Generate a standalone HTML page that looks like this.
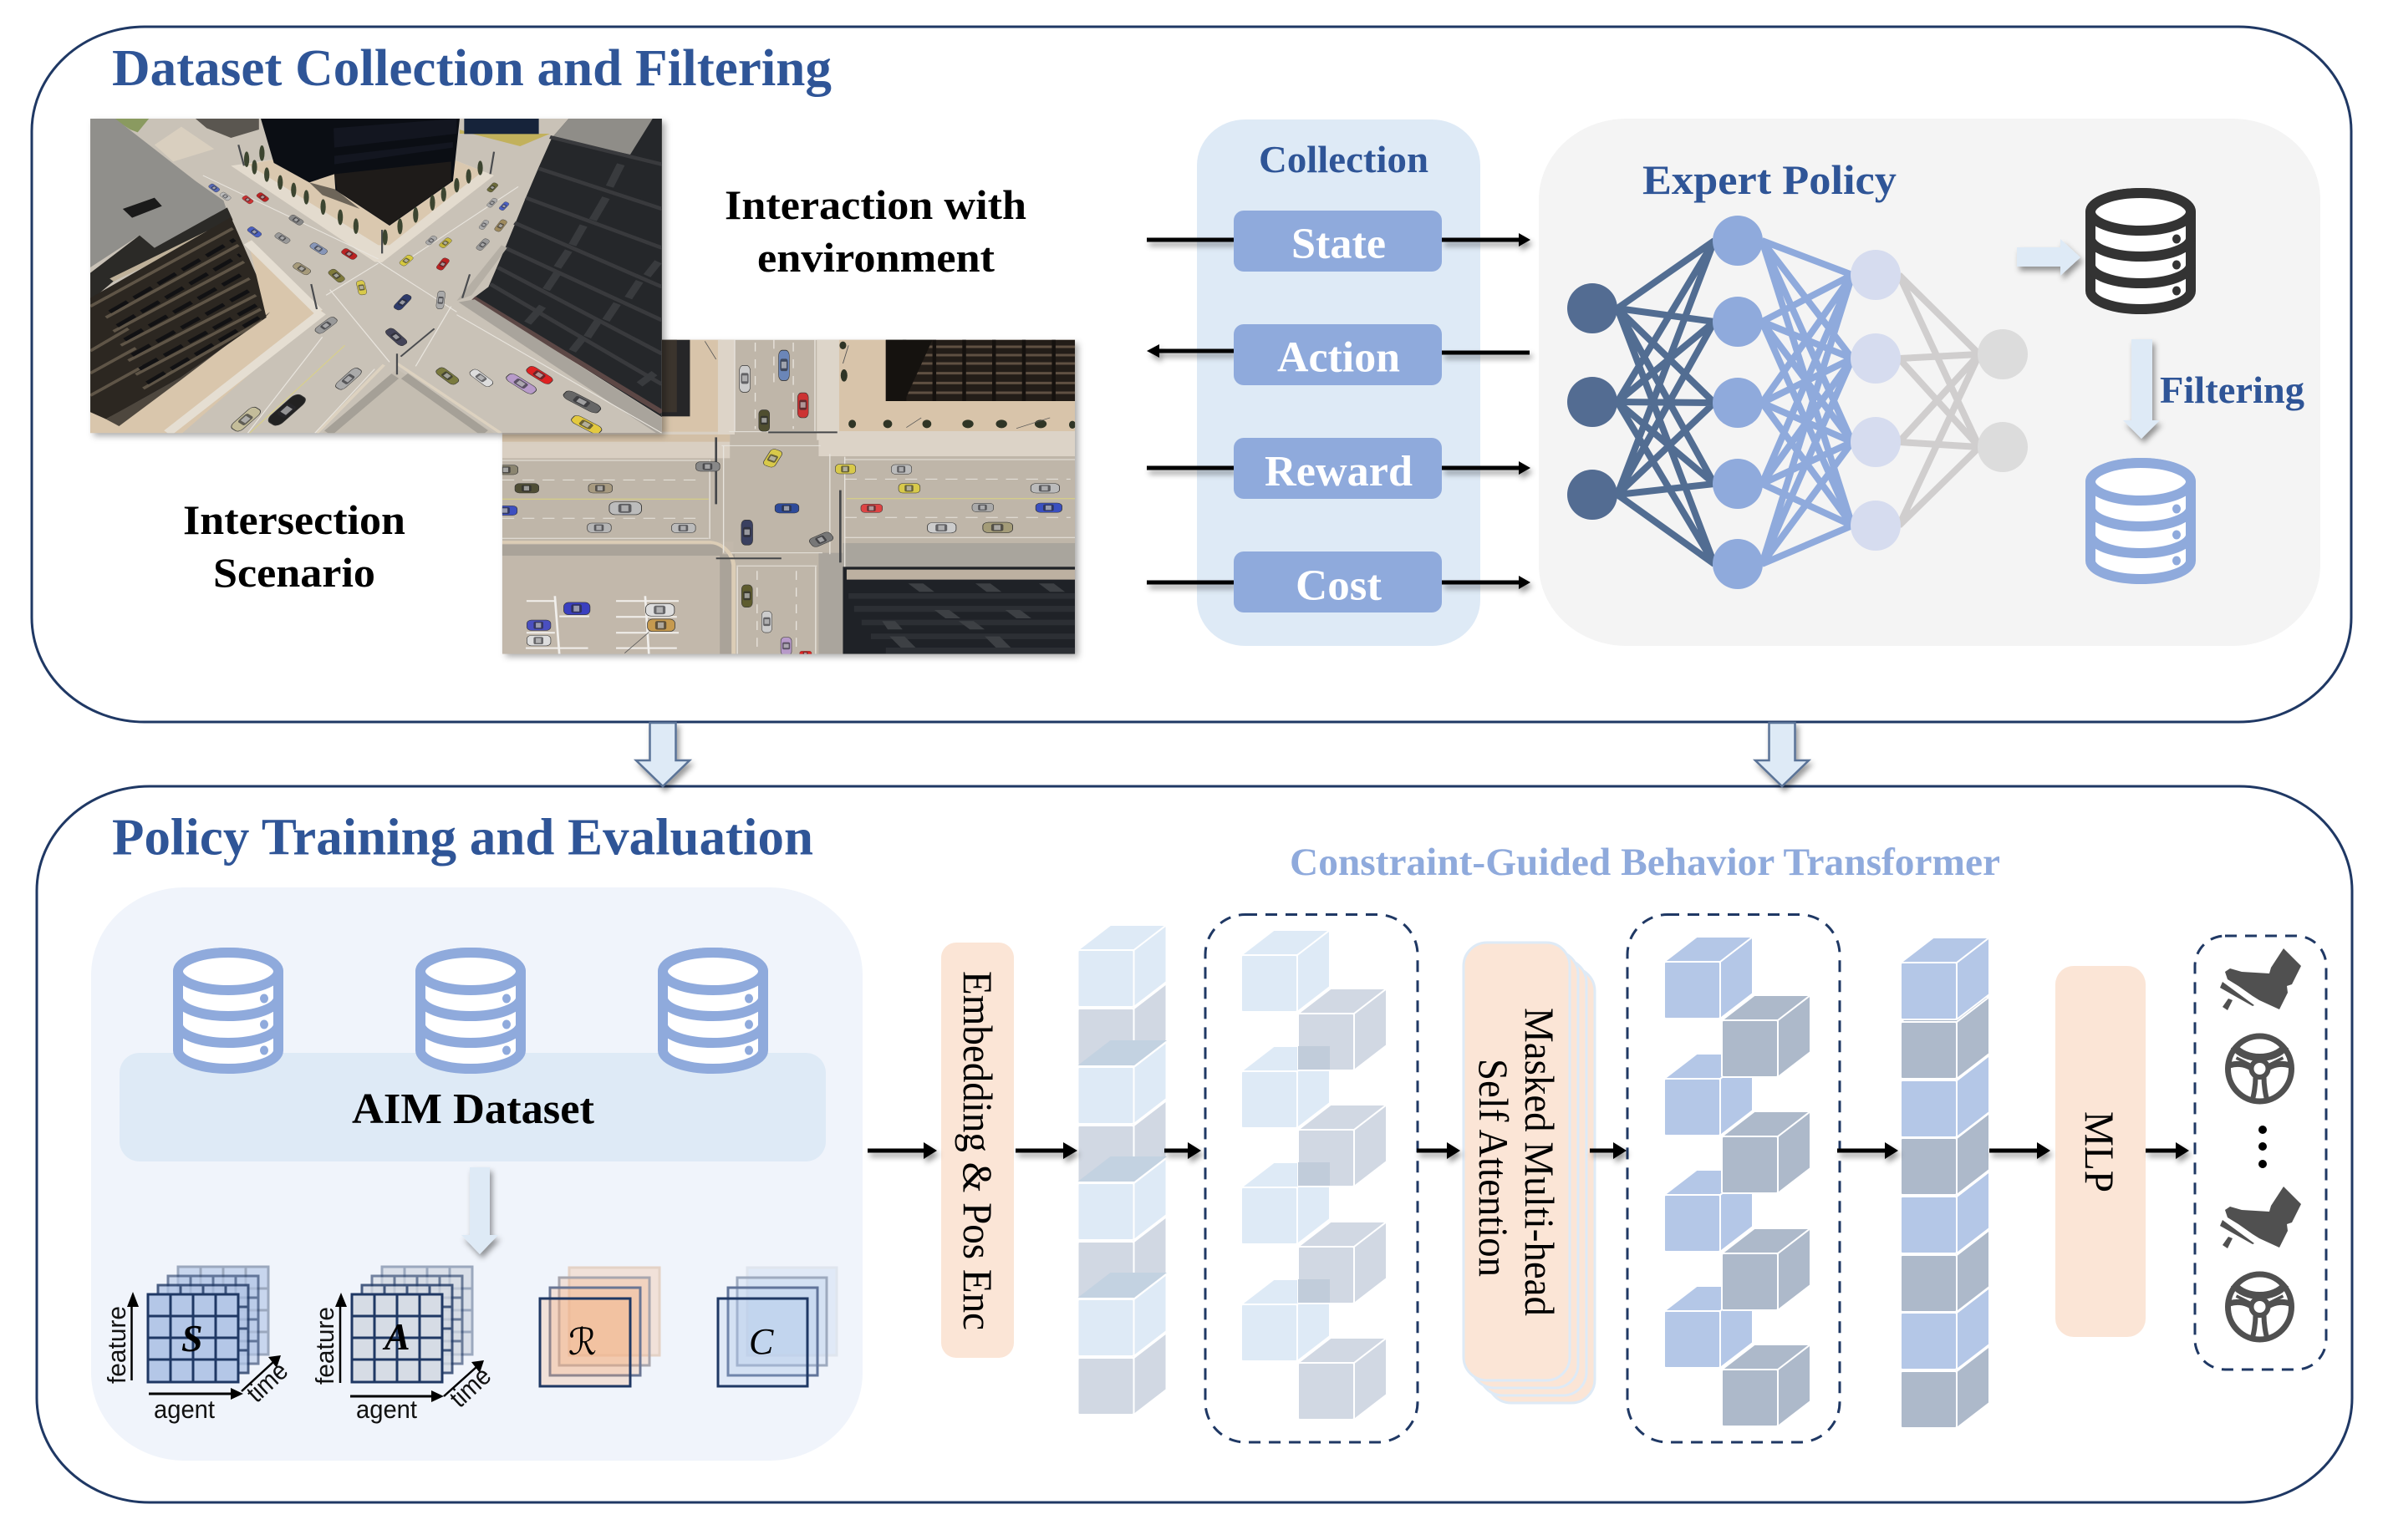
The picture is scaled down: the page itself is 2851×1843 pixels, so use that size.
<!DOCTYPE html>
<html><head><meta charset="utf-8"><title>Diagram</title>
<style>
html,body{margin:0;padding:0;background:#fff}
svg{display:block}
.s{font-family:"Liberation Serif",serif}
.b{font-family:"Liberation Serif",serif;font-weight:bold}
.t{font-family:"Liberation Sans",sans-serif}
</style></head><body>
<svg xmlns="http://www.w3.org/2000/svg" width="2851" height="1843" viewBox="0 0 2851 1843">
<defs>
<filter id="sh" x="-30%" y="-60%" width="170%" height="260%"><feDropShadow dx="3" dy="5" stdDeviation="3.5" flood-color="#000" flood-opacity=".4"/></filter>
<filter id="sh2" x="-10%" y="-10%" width="125%" height="125%"><feDropShadow dx="4" dy="4" stdDeviation="4" flood-color="#000" flood-opacity=".32"/></filter>
<clipPath id="c1"><rect x="18" y="6" width="1532" height="1129"/></clipPath>
<clipPath id="c2"><rect x="2" y="20" width="1535" height="1128"/></clipPath>
<g id="car"><rect x="-32" y="-17" width="64" height="34" rx="12" stroke="#333" stroke-width="1.5"/><rect x="-14" y="-12" width="26" height="24" rx="5" fill="#2a2a2e" opacity=".65"/><rect x="-8" y="-8" width="14" height="16" fill="#eee" opacity=".55"/></g>
<g id="db"><ellipse cx="66" cy="28.5" rx="60" ry="22.5" fill="#fff" stroke="currentColor" stroke-width="12"/>
<path d="M6 28V123A60 22 0 0 0 126 123V28Z" fill="#fff"/>
<path d="M6 28V123A60 22 0 0 0 126 123V28" fill="none" stroke="currentColor" stroke-width="12"/>
<path d="M6 60A60 22 0 0 0 126 60M6 92A60 22 0 0 0 126 92" fill="none" stroke="currentColor" stroke-width="12"/>
<ellipse cx="66" cy="28.5" rx="60" ry="22.5" fill="#fff" stroke="currentColor" stroke-width="12"/>
<ellipse cx="109" cy="61" rx="5" ry="5.5" fill="currentColor"/><ellipse cx="109" cy="92" rx="5" ry="5.5" fill="currentColor"/><ellipse cx="109" cy="123" rx="5" ry="5.5" fill="currentColor"/></g>
<g id="cube" stroke="#fff" stroke-width="2" stroke-linejoin="round"><path d="M67 0L106 -30V38L67 68Z"/><path d="M0 0L39 -30H106L67 0Z"/><rect width="67" height="68" rx="2"/></g>
<g id="grid" stroke="#1f3864" stroke-width="3" fill="none"><path d="M27 0V105M54 0V105M81 0V105M0 26H108M0 52H108M0 78H108"/><rect width="108" height="105"/></g>
<g id="foot" fill="#505050"><path d="M77 0L98 21L87 43L81 45L82 53L72 73L48 62L40 57L23 45L10 37L7 28L13 24L27 28L60 30L62 23Z"/><path d="M1 47L4 40L42 68L40 69Z"/><path d="M11 60L16 62L10 74L4 70Z"/></g>
<g id="wheel" fill="none" stroke="#505050"><ellipse cx="0" cy="0" rx="38" ry="39" stroke-width="7"/>
<path d="M-31 -27C-18 -9 18 -9 31 -27" stroke-width="9"/>
<path d="M-36 -4C-25 -8 -14 -4 -9 0M36 -4C25 -8 14 -4 9 0" stroke-width="7"/>
<path d="M-5 10C-5 20 -7 32 -9 38M5 10C5 20 7 32 9 38" stroke-width="6"/>
<path d="M-28 -13L-12 -5M28 -13L12 -5" stroke-width="3.5"/>
<circle r="10" stroke-width="6"/></g>
</defs>
<rect width="2851" height="1843" fill="#fff"/>

<!-- outer boxes -->
<rect x="38" y="32" width="2775" height="832" rx="135" ry="125" fill="#fff" stroke="#1f3864" stroke-width="3"/>
<rect x="44" y="941" width="2770" height="857" rx="135" ry="125" fill="#fff" stroke="#1f3864" stroke-width="3"/>

<text class="b" x="134" y="102" font-size="62" fill="#2f5597" textLength="861" lengthAdjust="spacingAndGlyphs">Dataset Collection and Filtering</text>
<text class="b" x="134" y="1022.5" font-size="62" fill="#2f5597" textLength="839" lengthAdjust="spacingAndGlyphs">Policy Training and Evaluation</text>

<!-- image 2 -->
<rect x="601" y="407" width="685" height="375" fill="#c2b8ab" filter="url(#sh2)"/>
<g transform="translate(600,400) scale(.4464,.3333)" clip-path="url(#c2)">
<rect x="2" y="20" width="1535" height="1128" fill="#bfb6a9"/>
<rect x="430" y="20" width="160" height="340" fill="#d8c4aa"/>
<rect x="2" y="350" width="610" height="95" fill="#d9cfc2"/>
<rect x="2" y="360" width="610" height="26" fill="#d2bfa6"/>
<rect x="580" y="20" width="45" height="340" fill="#ddd4c8"/>
<rect x="430" y="20" width="75" height="275" fill="#262628"/>
<rect x="430" y="20" width="40" height="260" fill="#3b342d"/>
<rect x="905" y="20" width="632" height="330" fill="#d8c4aa"/>
<rect x="845" y="20" width="60" height="360" fill="#ddd5c9"/>
<rect x="850" y="348" width="687" height="90" fill="#dcd3c7"/>
<rect x="1030" y="20" width="507" height="220" fill="#231d18"/>
<path d="M1080 45H1537M1065 75H1537M1050 105H1537M1040 140H1537M1035 175H1537M1035 210H1537" stroke="#5f5042" stroke-width="9" fill="none"/>
<path d="M1080 20V240M1160 20V240M1240 20V240M1320 20V240M1400 20V240M1480 20V240" stroke="#15110e" stroke-width="10" fill="none"/>
<path d="M1030 20L1155 20L1080 240H1030Z" fill="#15120f"/>
<g fill="#2f3526"><ellipse cx="940" cy="322" rx="10" ry="15"/><ellipse cx="1035" cy="322" rx="12" ry="15"/><ellipse cx="1140" cy="322" rx="12" ry="15"/><ellipse cx="1250" cy="322" rx="15" ry="15"/><ellipse cx="1340" cy="322" rx="15" ry="15"/><ellipse cx="1445" cy="322" rx="16" ry="15"/><ellipse cx="1530" cy="325" rx="9" ry="14"/><ellipse cx="918" cy="148" rx="9" ry="22"/><ellipse cx="915" cy="40" rx="9" ry="14"/></g>
<rect x="2" y="745" width="620" height="403" fill="#c2b8ab"/>
<rect x="2" y="755" width="590" height="40" fill="#aaa399"/>
<rect x="585" y="790" width="40" height="358" fill="#aaa399"/>
<path d="M2 747H560C595 752 620 790 622 830V1148" fill="none" stroke="#dccdb6" stroke-width="11"/>
<rect x="850" y="785" width="65" height="363" fill="#aaa59d"/>
<rect x="915" y="750" width="622" height="85" fill="#a9a59d"/>
<rect x="915" y="835" width="622" height="313" fill="#1f2227"/>
<rect x="925" y="845" width="612" height="36" fill="#bdb1a1"/>
<g fill="#2c2f34"><rect x="930" y="930" width="607" height="20"/><rect x="945" y="975" width="592" height="22"/><rect x="965" y="1025" width="572" height="20"/><rect x="990" y="1075" width="547" height="20"/><rect x="1030" y="1125" width="507" height="23"/></g>
<g fill="#3d4044"><path d="M1090 895h40l30 30h-40zM1270 895h40l30 30h-40zM1440 895h40l30 30h-40zM1160 990h40l30 30h-40zM1350 990h40l30 30h-40zM1020 1030h35l20 30h-40zM1225 1030h40l30 30h-40zM1040 1085h40l30 40h-40zM1295 1085h40l30 40h-40z"/></g>
<g stroke="#e8e4dd" fill="none" stroke-width="3"><path d="M2 453H555M920 450H1537M2 733H555M920 730H1537"/><path d="M590 400H855M610 350H850M615 785H860M630 832H845M595 400V785M880 430V790M558 450V735M920 440V835M625 20V348M840 20V348M632 835V1148M842 835V1148"/></g>
<path d="M2 523H540M920 520H1525M2 661H540M920 658H1525" stroke="#e8e4dd" stroke-width="3" stroke-dasharray="32 22" fill="none"/>
<path d="M2 592H555M925 590H1537" stroke="#d4cc8a" stroke-width="4" fill="none"/>
<path d="M680 30V340M782 30V340M730 20V200M685 850V1148M790 850V1148" stroke="#e8e4dd" stroke-width="3" stroke-dasharray="32 28" fill="none"/>
<g stroke="#f1efec" stroke-width="6" fill="none"><path d="M143 940L155 1148M385 940L395 1148M67 958H143M67 1072H143M65 1127H232M155 1013H235M307 958H475M307 1015H470M307 1072H475M307 1127H470"/></g>
<g stroke="#45474a" stroke-width="6" fill="none"><path d="M575 370V610M908 560V820M715 352H900M575 805H750"/></g>
<g stroke="#555" fill="none" stroke-width="2"><path d="M545 25L575 90M1085 335L1125 300M1380 338L1470 300M330 1145L395 1070M915 105L930 40"/></g>
<use href="#car" transform="translate(12,487)" fill="#8b8570"/><use href="#car" transform="translate(68,553)" fill="#4f4e35"/><use href="#car" transform="translate(265,553)" fill="#a79a80"/><use href="#car" transform="translate(10,633)" fill="#3d4fc0"/>
<use href="#car" transform="translate(332,625) scale(1.35,1.35)" fill="#bcbcbc"/><use href="#car" transform="translate(262,695)" fill="#b5b5b5"/><use href="#car" transform="translate(488,696)" fill="#bbb"/><use href="#car" transform="translate(553,475)" fill="#888"/>
<use href="#car" transform="translate(727,445) rotate(-65)" fill="#d8c94a"/><use href="#car" transform="translate(765,625)" fill="#2d4a9a"/><use href="#car" transform="translate(658,712) rotate(90) scale(1.4,.9)" fill="#3a4060"/><use href="#car" transform="translate(857,737) rotate(-30)" fill="#777"/>
<use href="#car" transform="translate(922,484) scale(.85,1)" fill="#d8c94a"/><use href="#car" transform="translate(1072,485) scale(.85,1)" fill="#bbb"/><use href="#car" transform="translate(1093,553) scale(.9,1)" fill="#d8c94a"/><use href="#car" transform="translate(1457,553) scale(1.2,1)" fill="#bbb"/>
<use href="#car" transform="translate(992,625) scale(.9,.9)" fill="#d44"/><use href="#car" transform="translate(1290,622) scale(.9,.9)" fill="#aaa"/><use href="#car" transform="translate(1467,623) scale(1.1,1)" fill="#3a4fc0"/><use href="#car" transform="translate(1180,695) scale(1.2,1.1)" fill="#ccc"/><use href="#car" transform="translate(1330,694) scale(1.25,1.1)" fill="#a49c78"/>
<use href="#car" transform="translate(652,160) rotate(90) scale(1.5,.85)" fill="#ccc"/><use href="#car" transform="translate(757,112) rotate(90) scale(1.7,.85)" fill="#6b86b8"/><use href="#car" transform="translate(808,255) rotate(90) scale(1.4,.85)" fill="#c33"/><use href="#car" transform="translate(704,310) rotate(90) scale(1.2,.85)" fill="#4f4e30"/>
<use href="#car" transform="translate(658,940) rotate(90) scale(1.25,.85)" fill="#5e5c2e"/><use href="#car" transform="translate(711,1033) rotate(90) scale(1.2,.8)" fill="#ccc"/><use href="#car" transform="translate(763,1120) rotate(90) scale(1,.85)" fill="#b79ac9"/><use href="#car" transform="translate(815,1148) scale(.5,.6)" fill="#d22"/>
<use href="#car" transform="translate(202,985) scale(1.1,1.3)" fill="#3a3fc0"/><use href="#car" transform="translate(100,1045) scale(1,1.1)" fill="#4a4fc0"/><use href="#car" transform="translate(100,1100) scale(1,1.1)" fill="#ddd"/><use href="#car" transform="translate(425,990) scale(1.2,1.3)" fill="#ddd"/><use href="#car" transform="translate(428,1045) scale(1.15,1.3)" fill="#c69a4f"/>
</g>

<!-- image 1 -->
<rect x="108" y="142" width="684" height="376" fill="#c9c2b7" filter="url(#sh2)"/>
<g transform="translate(100,140) scale(.4464,.3333)" clip-path="url(#c1)">
<rect x="18" y="6" width="1532" height="1129" fill="#c9c2b7"/>
<path d="M395 175L520 150L985 150L1100 210L800 522L780 520Z" fill="#e3dbce"/>
<path d="M440 170L520 150L985 150L1070 195L820 460L790 460Z" fill="#dac8af"/>
<path d="M475 6H1008L990 230L820 390L675 262L672 205L605 235L510 165Z" fill="#0b0e14"/>
<path d="M672 205L985 160V232L820 388L680 265Z" fill="#1e1b19"/>
<path d="M670 40L1000 6V60L672 110ZM672 140L990 90V110L672 170Z" fill="#131620"/>
<path d="M675 260L605 235L640 280L740 330Z" fill="#3e3a35" opacity=".7"/>
<path d="M1008 60H1250L1170 105L1040 60L1008 45Z" fill="#c1ad45" opacity=".8"/>
<rect x="1020" y="6" width="200" height="55" fill="#16233a"/>
<path d="M80 6H175L145 55L125 45Z" fill="#8a9a60"/>
<path d="M300 6H470L470 45L395 75L330 40Z" fill="#5a5650"/>
<path d="M262 35L350 115L240 160L190 100Z" fill="#d9cfbf"/>
<path d="M18 6H85L300 230L375 300L385 340L190 470L150 425L18 540Z" fill="#908f8b"/>
<path d="M105 330L190 290L210 320L130 362Z" fill="#1a1a1a"/>
<path d="M18 560L150 425L190 470L385 325L400 370L80 590L18 660Z" fill="#2b2a27"/>
<path d="M70 580L330 410L335 430L80 590Z" fill="#bfb199"/>
<path d="M18 650L395 360L500 680L490 720L260 935L60 1085L18 1060Z" fill="#2c2721"/>
<g stroke="#5f5547" stroke-width="10" fill="none"><path d="M18 680L400 400M60 720L415 460M80 770L430 520M100 820L445 580M120 875L462 640M140 925L475 690M160 975L480 730M18 840L120 760M18 920L140 830M18 1000L160 895"/></g>
<g stroke="#111113" stroke-width="13" fill="none" stroke-dasharray="60 22"><path d="M70 700L405 440M90 750L420 495M110 800L437 555M130 855L455 615M150 905L470 670M170 955L470 720"/></g>
<path d="M440 440L640 695L265 1135H18V1060L60 1085L260 935L490 720Z" fill="#d9c6ac"/>
<path d="M500 700L260 945L95 1110L60 1085L260 930L490 715Z" fill="#2a2723" opacity=".8"/>
<path d="M440 450L630 700" stroke="#e5ded2" stroke-width="26" fill="none"/>
<path d="M640 700L225 1135" stroke="#e5ded2" stroke-width="26" fill="none"/>
<path d="M1300 6H1550V1078L1045 650L1085 610L1130 470L1185 290L1220 180L1255 75Z" fill="#25272a"/>
<path d="M1300 6H1525L1465 135L1255 75Z" fill="#8f8d88"/>
<g stroke="#393a3d" stroke-width="13" fill="none"><path d="M1250 72L1550 170M1220 185L1550 330M1185 290L1550 470M1155 380L1550 610M1130 470L1550 730M1110 540L1550 850M1090 600L1550 960"/></g>
<g stroke="#393b3e" stroke-width="22" fill="none"><path d="M1440 170L1410 250M1400 290L1365 370M1340 390L1310 460M1300 480L1270 540M1270 560L1240 620M1540 520L1510 570M1490 590L1460 650M1430 670L1400 730M1380 730L1350 790M1340 790L1310 840M1530 920L1490 960M1230 680L1190 740"/></g>
<path d="M1045 650L1550 1060" stroke="#5c4745" stroke-width="16" fill="none"/>
<path d="M1005 665L1048 655L1550 1080V1135H1535Z" fill="#a9a49c"/>
<path d="M1000 660L1120 460L1135 470L1040 640Z" fill="#b5afa5"/>
<path d="M840 905L1100 1135H640Z" fill="#c4bdb1"/>
<path d="M835 930L655 1135M860 930L1075 1135" stroke="#a5a097" stroke-width="26" fill="none"/>
<path d="M840 885L1118 1135M805 890L625 1135" stroke="#ddd2c0" stroke-width="9" fill="none"/>
<g stroke="#e9e5de" stroke-width="3" fill="none"><path d="M790 520L1000 700M660 620L820 880M790 525L650 640M985 680L890 895M320 210L790 510M1165 250L860 520M1000 710L1550 1135M640 790L440 1135M780 905L620 1135"/></g>
<path d="M700 820L445 1135" stroke="#d8d08a" stroke-width="3" fill="none"/>
<g stroke="#4a4c4f" stroke-width="5" fill="none"><path d="M840 850V925M940 760L850 860M610 600L625 690M1035 565L1015 650M800 405V490M1100 125L1090 205M415 100L430 175"/></g>
<g fill="#3c4530"><ellipse cx="437" cy="152" rx="7" ry="28"/><ellipse cx="478" cy="130" rx="7" ry="28"/><ellipse cx="458" cy="180" rx="7" ry="26"/><ellipse cx="491" cy="207" rx="7" ry="26"/><ellipse cx="527" cy="235" rx="7" ry="26"/><ellipse cx="563" cy="262" rx="7" ry="26"/><ellipse cx="597" cy="288" rx="7" ry="26"/><ellipse cx="642" cy="323" rx="7" ry="28"/><ellipse cx="688" cy="360" rx="7" ry="28"/><ellipse cx="730" cy="392" rx="7" ry="28"/><ellipse cx="808" cy="432" rx="7" ry="28"/><ellipse cx="848" cy="393" rx="7" ry="28"/><ellipse cx="890" cy="352" rx="7" ry="28"/><ellipse cx="935" cy="308" rx="7" ry="28"/><ellipse cx="965" cy="278" rx="7" ry="26"/><ellipse cx="1000" cy="245" rx="7" ry="26"/><ellipse cx="1032" cy="213" rx="7" ry="26"/><ellipse cx="1063" cy="183" rx="7" ry="26"/></g>
<g transform="scale(1)">
<use href="#car" transform="translate(350,255) rotate(45) scale(.5,.5)" fill="#5668b5"/><use href="#car" transform="translate(380,285) rotate(45) scale(.5,.5)" fill="#bbb"/><use href="#car" transform="translate(440,297) rotate(45) scale(.5,.5)" fill="#c33"/><use href="#car" transform="translate(480,288) rotate(45) scale(.55,.55)" fill="#b22"/>
<use href="#car" transform="translate(570,370) rotate(40) scale(.65,.6)" fill="#888"/><use href="#car" transform="translate(458,413) rotate(45) scale(.65,.6)" fill="#4a5fc0"/><use href="#car" transform="translate(533,435) rotate(40) scale(.7,.6)" fill="#999"/><use href="#car" transform="translate(630,473) rotate(40) scale(.8,.65)" fill="#8796b8"/><use href="#car" transform="translate(712,492) rotate(40) scale(.7,.65)" fill="#b22"/>
<use href="#car" transform="translate(585,545) rotate(40) scale(.8,.7)" fill="#a69a7a"/><use href="#car" transform="translate(678,570) rotate(50) scale(.8,.7)" fill="#7f7a3a"/><use href="#car" transform="translate(745,613) rotate(80) scale(.8,.65)" fill="#d8c94a"/><use href="#car" transform="translate(855,665) rotate(-55) scale(.95,.7)" fill="#2d3a6a"/><use href="#car" transform="translate(957,657) rotate(-85) scale(1,.6)" fill="#aaa"/>
<use href="#car" transform="translate(650,748) rotate(-45) scale(1.1,.75)" fill="#999"/><use href="#car" transform="translate(838,790) rotate(50) scale(1.1,.8)" fill="#444458"/><use href="#car" transform="translate(710,940) rotate(-50) scale(1.4,.85)" fill="#aaa"/><use href="#car" transform="translate(975,930) rotate(45) scale(1.1,.85)" fill="#7a7a3e"/><use href="#car" transform="translate(1066,937) rotate(45) scale(1.15,.8)" fill="#ddd"/><use href="#car" transform="translate(1173,958) rotate(40) scale(1.45,.9)" fill="#b79ac9"/><use href="#car" transform="translate(1222,927) rotate(40) scale(1.25,.85)" fill="#d22"/>
<use href="#car" transform="translate(1336,1023) rotate(35) scale(1.75,.95)" fill="#666"/><use href="#car" transform="translate(1348,1105) rotate(35) scale(1.4,.9)" fill="#e3c93f"/><use href="#car" transform="translate(545,1052) rotate(-50) scale(2,1.2)" fill="#222"/><use href="#car" transform="translate(435,1085) rotate(-50) scale(1.55,1)" fill="#c4bd9a"/>
<use href="#car" transform="translate(865,515) rotate(-50) scale(.65,.6)" fill="#d6c93f"/><use href="#car" transform="translate(963,528) rotate(-60) scale(.7,.6)" fill="#b22"/><use href="#car" transform="translate(970,452) rotate(-50) scale(.6,.55)" fill="#c4b53c"/><use href="#car" transform="translate(932,443) rotate(-50) scale(.55,.5)" fill="#aaa"/><use href="#car" transform="translate(1070,458) rotate(-55) scale(.7,.55)" fill="#999"/><use href="#car" transform="translate(1118,390) rotate(-60) scale(.7,.55)" fill="#9e8a5e"/><use href="#car" transform="translate(1073,387) rotate(-60) scale(.55,.45)" fill="#aaa"/><use href="#car" transform="translate(1095,308) rotate(-55) scale(.55,.45)" fill="#aaa"/><use href="#car" transform="translate(1127,320) rotate(-55) scale(.5,.45)" fill="#4a5fc0"/><use href="#car" transform="translate(1096,253) rotate(-55) scale(.55,.5)" fill="#6b6a3a"/>
</g>
</g>

<text class="b" x="867" y="262" font-size="50" textLength="361" lengthAdjust="spacingAndGlyphs">Interaction with</text>
<text class="b" x="906" y="325" font-size="50" textLength="284" lengthAdjust="spacingAndGlyphs">environment</text>
<text class="b" x="219" y="639" font-size="50" textLength="266" lengthAdjust="spacingAndGlyphs">Intersection</text>
<text class="b" x="255" y="702" font-size="50" textLength="194" lengthAdjust="spacingAndGlyphs">Scenario</text>

<!-- collection -->
<rect x="1432" y="143" width="339" height="630" rx="58" ry="55" fill="#deeaf6"/>
<rect x="1841" y="142" width="935" height="631" rx="105" ry="97" fill="#f4f4f4"/>
<text class="b" x="1506" y="206" font-size="46" fill="#2f5597" textLength="203" lengthAdjust="spacingAndGlyphs">Collection</text>
<text class="b" x="1965" y="232" font-size="50" fill="#2f5597" textLength="304" lengthAdjust="spacingAndGlyphs">Expert Policy</text>
<text class="b" x="2584" y="482" font-size="46" fill="#2f5597" textLength="173" lengthAdjust="spacingAndGlyphs">Filtering</text>

<g filter="url(#sh)" fill="#000" stroke="none">
<rect x="1372" y="284.5" width="104" height="5"/><rect x="1725" y="284.5" width="94" height="5"/><path d="M1817 279L1831 287L1817 295Z"/>
<rect x="1385" y="417.5" width="91" height="5"/><path d="M1387 412L1372 420L1387 428Z"/><rect x="1725" y="419.5" width="105" height="5"/>
<rect x="1372" y="557.5" width="104" height="5"/><rect x="1725" y="557.5" width="94" height="5"/><path d="M1817 552L1831 560L1817 568Z"/>
<rect x="1372" y="694.5" width="104" height="5"/><rect x="1725" y="694.5" width="94" height="5"/><path d="M1817 689L1831 697L1817 705Z"/>
</g>
<g fill="#8faadc"><rect x="1476" y="252" width="249" height="73" rx="12"/><rect x="1476" y="388" width="249" height="73" rx="12"/><rect x="1476" y="524" width="249" height="73" rx="12"/><rect x="1476" y="660" width="249" height="73" rx="12"/></g>
<g class="b" font-size="52" fill="#fff">
<text x="1545" y="308.5" textLength="113" lengthAdjust="spacingAndGlyphs">State</text>
<text x="1528" y="444.5" textLength="147" lengthAdjust="spacingAndGlyphs">Action</text>
<text x="1513" y="581" textLength="177" lengthAdjust="spacingAndGlyphs">Reward</text>
<text x="1550" y="717.5" textLength="103" lengthAdjust="spacingAndGlyphs">Cost</text>
</g>

<!-- neural net -->
<path fill="none" stroke="#d0cece" stroke-width="8" d="M2272 329L2368 424M2272 329L2368 535M2272 429L2368 424M2272 429L2368 535M2272 529L2368 424M2272 529L2368 535M2272 629L2368 424M2272 629L2368 535"/>
<path fill="none" stroke="#8faadc" stroke-width="8" d="M2108 288L2216 329M2108 288L2216 429M2108 288L2216 529M2108 288L2216 629M2108 385L2216 329M2108 385L2216 429M2108 385L2216 529M2108 385L2216 629M2108 482L2216 329M2108 482L2216 429M2108 482L2216 529M2108 482L2216 629M2108 579L2216 329M2108 579L2216 429M2108 579L2216 529M2108 579L2216 629M2108 675L2216 329M2108 675L2216 429M2108 675L2216 529M2108 675L2216 629"/>
<path fill="none" stroke="#526d92" stroke-width="8" d="M1935 369L2051 288M1935 369L2051 385M1935 369L2051 482M1935 369L2051 579M1935 369L2051 675M1935 481L2051 288M1935 481L2051 385M1935 481L2051 482M1935 481L2051 579M1935 481L2051 675M1935 592L2051 288M1935 592L2051 385M1935 592L2051 482M1935 592L2051 579M1935 592L2051 675"/>
<g fill="#536c92"><circle cx="1905" cy="369" r="30"/><circle cx="1905" cy="481" r="30"/><circle cx="1905" cy="592" r="30"/></g>
<g fill="#8faadc"><circle cx="2079" cy="288" r="30"/><circle cx="2079" cy="385" r="30"/><circle cx="2079" cy="482" r="30"/><circle cx="2079" cy="579" r="30"/><circle cx="2079" cy="675" r="30"/></g>
<g fill="#d6dcef"><circle cx="2244" cy="329" r="30"/><circle cx="2244" cy="429" r="30"/><circle cx="2244" cy="529" r="30"/><circle cx="2244" cy="629" r="30"/></g>
<g fill="#dcdcdc"><circle cx="2396" cy="424" r="30"/><circle cx="2396" cy="535" r="30"/></g>

<use href="#db" transform="translate(2495,225)" style="color:#333"/>
<use href="#db" transform="translate(2495,548)" style="color:#8faadc"/>
<path d="M2413 296H2465V286L2489 308L2465 330V319H2413Z" fill="#deeaf6" filter="url(#sh)"/>
<path d="M2550 406H2575V503H2584L2562 525L2540 503H2550Z" fill="#deeaf6" filter="url(#sh)"/>

<!-- big down arrows -->
<path d="M777.5 865H808.5V910H825L793 941L761 910H777.5Z" fill="#deeaf6" stroke="#5a7397" stroke-width="2.5" filter="url(#sh)"/>
<path d="M2116.5 865H2147.5V910H2164L2132 941L2100 910H2116.5Z" fill="#deeaf6" stroke="#5a7397" stroke-width="2.5" filter="url(#sh)"/>

<text class="b" x="1543" y="1047" font-size="47" fill="#8faadc" textLength="850" lengthAdjust="spacingAndGlyphs">Constraint-Guided Behavior Transformer</text>

<!-- AIM panel -->
<rect x="109" y="1062" width="923" height="686" rx="112" ry="105" fill="#f0f4fb"/>
<rect x="143" y="1260" width="845" height="130" rx="24" fill="#deeaf6"/>
<use href="#db" transform="translate(207,1134)" style="color:#8faadc"/>
<use href="#db" transform="translate(497,1134)" style="color:#8faadc"/>
<use href="#db" transform="translate(787,1134)" style="color:#8faadc"/>
<text class="b" x="421" y="1344" font-size="52" textLength="290" lengthAdjust="spacingAndGlyphs">AIM Dataset</text>
<path d="M562 1397H586V1478H596L574 1501L552 1478H562Z" fill="#deeaf6" filter="url(#sh)"/>

<!-- S tensor -->
<g transform="translate(213,1516)" opacity=".4"><rect width="108" height="105" fill="#8faadc"/><use href="#grid"/></g>
<g transform="translate(201,1527)" opacity=".6"><rect width="108" height="105" fill="#b4c7e7"/><use href="#grid"/></g>
<g transform="translate(189,1538)" opacity=".8"><rect width="108" height="105" fill="#b4c7e7"/><use href="#grid"/></g>
<g transform="translate(177,1549)"><rect width="108" height="105" fill="#b4c7e7"/><use href="#grid"/></g>
<text class="s" x="217" y="1617" font-size="46" font-style="italic" font-weight="bold">S</text>
<!-- A tensor -->
<g transform="translate(457,1516)" opacity=".4"><rect width="108" height="105" fill="#b8c2d0"/><use href="#grid"/></g>
<g transform="translate(445,1527)" opacity=".6"><rect width="108" height="105" fill="#d6dce5"/><use href="#grid"/></g>
<g transform="translate(433,1538)" opacity=".8"><rect width="108" height="105" fill="#d6dce5"/><use href="#grid"/></g>
<g transform="translate(421,1549)"><rect width="108" height="105" fill="#d6dce5"/><use href="#grid"/></g>
<text class="s" x="460" y="1615" font-size="46" font-style="italic" font-weight="bold">A</text>
<g fill="#000">
<path d="M157.5 1652V1560" stroke="#000" stroke-width="2.5"/><path d="M152 1564L159 1546L166 1564Z"/>
<path d="M178 1668H278" stroke="#000" stroke-width="3"/><path d="M276 1661L291 1668L276 1675Z"/>
<path d="M289 1665L327 1630" stroke="#000" stroke-width="2.5"/><path d="M321 1624L336 1622L331 1637Z"/>
<path d="M407 1655V1560" stroke="#000" stroke-width="2.5"/><path d="M401 1564L408 1547L415 1564Z"/>
<path d="M419 1671H518" stroke="#000" stroke-width="3"/><path d="M516 1664L531 1671L516 1678Z"/>
<path d="M531 1671L570 1636" stroke="#000" stroke-width="2.5"/><path d="M564 1630L579 1628L574 1643Z"/>
</g>
<g class="t" font-size="31" font-weight="bold" fill="#111">
<text transform="translate(150,1656) rotate(-90)" textLength="93" lengthAdjust="spacingAndGlyphs" font-weight="normal">feature</text>
<text x="184" y="1697" textLength="73" lengthAdjust="spacingAndGlyphs" font-weight="normal">agent</text>
<text transform="translate(307,1680) rotate(-43)" textLength="54" lengthAdjust="spacingAndGlyphs" font-weight="normal">time</text>
<text transform="translate(399,1657) rotate(-90)" textLength="93" lengthAdjust="spacingAndGlyphs" font-weight="normal">feature</text>
<text x="426" y="1697" textLength="73" lengthAdjust="spacingAndGlyphs" font-weight="normal">agent</text>
<text transform="translate(550,1686) rotate(-43)" textLength="54" lengthAdjust="spacingAndGlyphs" font-weight="normal">time</text>
</g>
<!-- R, C stacks -->
<g fill="#f4b183" fill-opacity=".28" stroke-width="3">
<rect x="681" y="1517" width="108" height="105" stroke="#e4d2c6"/>
<rect x="669" y="1529" width="108" height="105" stroke="#a8a6ae"/>
<rect x="658" y="1541" width="108" height="105" stroke="#6a7694"/>
<rect x="646" y="1554" width="108" height="105" stroke="#1f3864"/>
</g>
<g fill="#a9c3ea" fill-opacity=".22" stroke-width="3">
<rect x="894" y="1517" width="107" height="105" stroke="#dfe5ee"/>
<rect x="882" y="1529" width="107" height="105" stroke="#9eaabf"/>
<rect x="871" y="1541" width="107" height="105" stroke="#61749a"/>
<rect x="859" y="1554" width="107" height="105" stroke="#1f3864"/>
</g>
<text x="680" y="1621" font-size="44" font-family="'DejaVu Serif','DejaVu Sans',serif" textLength="34" lengthAdjust="spacingAndGlyphs">ℛ</text>
<text class="s" x="896" y="1620" font-size="44" font-style="italic">C</text>

<!-- embedding -->
<rect x="1126" y="1128" width="87" height="497" rx="18" fill="#fbe5d6"/>
<text class="s" font-size="50" transform="translate(1153,1162) rotate(90)" textLength="430" lengthAdjust="spacingAndGlyphs">Embedding &amp; Pos Enc</text>

<!-- column 1 -->
<g fill="#d1d8e3">
<use href="#cube" transform="translate(1289.5,1625)"/>
</g>
<use href="#cube" transform="translate(1289.5,1555)" fill="#deeaf6"/>
<use href="#cube" transform="translate(1289.5,1486)" fill="#d1d8e3"/>
<use href="#cube" transform="translate(1289.5,1416)" fill="#deeaf6"/>
<use href="#cube" transform="translate(1289.5,1347)" fill="#d1d8e3"/>
<use href="#cube" transform="translate(1289.5,1277)" fill="#deeaf6"/>
<use href="#cube" transform="translate(1289.5,1207)" fill="#d1d8e3"/>
<use href="#cube" transform="translate(1289.5,1137)" fill="#deeaf6"/>
<g fill="#c3d2e1"><path d="M1289.5 1275L1357 1275L1396 1245H1328.5Z"/><path d="M1289.5 1414L1357 1414L1396 1384H1328.5Z"/><path d="M1289.5 1553L1357 1553L1396 1523H1328.5Z"/></g>

<!-- column 2 -->
<rect x="1442" y="1094.5" width="254" height="631.5" rx="48" fill="none" stroke="#1f3864" stroke-width="3" stroke-dasharray="14 10"/>
<use href="#cube" transform="translate(1553,1631)" fill="#d1d8e3"/>
<use href="#cube" transform="translate(1485,1561)" fill="#deeaf6"/>
<use href="#cube" transform="translate(1553,1492)" fill="#d1d8e3"/>
<use href="#cube" transform="translate(1485,1421)" fill="#deeaf6"/>
<use href="#cube" transform="translate(1553,1352)" fill="#d1d8e3"/>
<use href="#cube" transform="translate(1485,1282)" fill="#deeaf6"/>
<use href="#cube" transform="translate(1553,1213)" fill="#d1d8e3"/>
<use href="#cube" transform="translate(1485,1143)" fill="#deeaf6"/>
<g fill="#c1ccda"><rect x="1553" y="1252" width="38" height="28"/><rect x="1553" y="1391" width="38" height="28"/><rect x="1553" y="1531" width="38" height="28"/></g>

<!-- masked attention -->
<g fill="#fbe5d6" stroke="#deeaf6" stroke-width="3">
<rect x="1780" y="1158" width="128" height="521" rx="28"/>
<rect x="1770" y="1148" width="128" height="522" rx="28"/>
<rect x="1760" y="1138" width="128" height="523" rx="28"/>
<rect x="1751" y="1128" width="127" height="524" rx="28"/>
</g>
<text class="s" font-size="50" transform="translate(1825,1206) rotate(90)" textLength="369" lengthAdjust="spacingAndGlyphs">Masked Multi-head</text>
<text class="s" font-size="50" transform="translate(1770,1267) rotate(90)" textLength="261" lengthAdjust="spacingAndGlyphs">Self Attention</text>

<!-- column 3 -->
<rect x="1947" y="1094.5" width="254" height="631.5" rx="48" fill="none" stroke="#1f3864" stroke-width="3" stroke-dasharray="14 10"/>
<g fill="#b4c7e7"><use href="#cube" transform="translate(1991,1151)"/><use href="#cube" transform="translate(1991,1291)"/><use href="#cube" transform="translate(1991,1430)"/><use href="#cube" transform="translate(1991,1569)"/></g>
<g fill="#adb9ca"><use href="#cube" transform="translate(2060,1221)"/><use href="#cube" transform="translate(2060,1360)"/><use href="#cube" transform="translate(2060,1500)"/><use href="#cube" transform="translate(2060,1639)"/></g>

<!-- column 4 -->
<use href="#cube" transform="translate(2274,1641)" fill="#adb9ca"/>
<use href="#cube" transform="translate(2274,1571)" fill="#b4c7e7"/>
<use href="#cube" transform="translate(2274,1502)" fill="#adb9ca"/>
<use href="#cube" transform="translate(2274,1432)" fill="#b4c7e7"/>
<use href="#cube" transform="translate(2274,1362)" fill="#adb9ca"/>
<use href="#cube" transform="translate(2274,1293)" fill="#b4c7e7"/>
<use href="#cube" transform="translate(2274,1223)" fill="#adb9ca"/>
<use href="#cube" transform="translate(2274,1152)" fill="#b4c7e7"/>

<!-- MLP -->
<rect x="2459" y="1156" width="108" height="444" rx="22" fill="#fbe5d6"/>
<text class="s" font-size="50" transform="translate(2495,1330) rotate(90)" textLength="97" lengthAdjust="spacingAndGlyphs">MLP</text>

<!-- output -->
<rect x="2626" y="1120" width="157" height="519" rx="36" fill="none" stroke="#1f3864" stroke-width="3" stroke-dasharray="14 10"/>
<use href="#foot" transform="translate(2655,1135)"/>
<use href="#foot" transform="translate(2655,1420)"/>
<use href="#wheel" transform="translate(2703.5,1279)"/>
<use href="#wheel" transform="translate(2703.5,1564)"/>
<g fill="#000"><circle cx="2707" cy="1352" r="5"/><circle cx="2707" cy="1372" r="5"/><circle cx="2707" cy="1393" r="5"/></g>

<!-- main arrows -->
<g filter="url(#sh)" fill="#000">
<rect x="1038" y="1374.5" width="70" height="5"/><path d="M1105 1367L1121 1377L1105 1387Z"/>
<rect x="1215" y="1374.5" width="60" height="5"/><path d="M1272 1367L1289 1377L1272 1387Z"/>
<rect x="1393" y="1374.5" width="32" height="5"/><path d="M1421 1367L1437 1377L1421 1387Z"/>
<rect x="1695" y="1374.5" width="40" height="5"/><path d="M1731 1367L1747 1377L1731 1387Z"/>
<rect x="1902" y="1374.5" width="32" height="5"/><path d="M1930 1367L1946 1377L1930 1387Z"/>
<rect x="2198" y="1374.5" width="60" height="5"/><path d="M2255 1367L2271 1377L2255 1387Z"/>
<rect x="2380" y="1374.5" width="60" height="5"/><path d="M2437 1367L2453 1377L2437 1387Z"/>
<rect x="2567" y="1374.5" width="40" height="5"/><path d="M2603 1367L2619 1377L2603 1387Z"/>
</g>
</svg>
</body></html>
